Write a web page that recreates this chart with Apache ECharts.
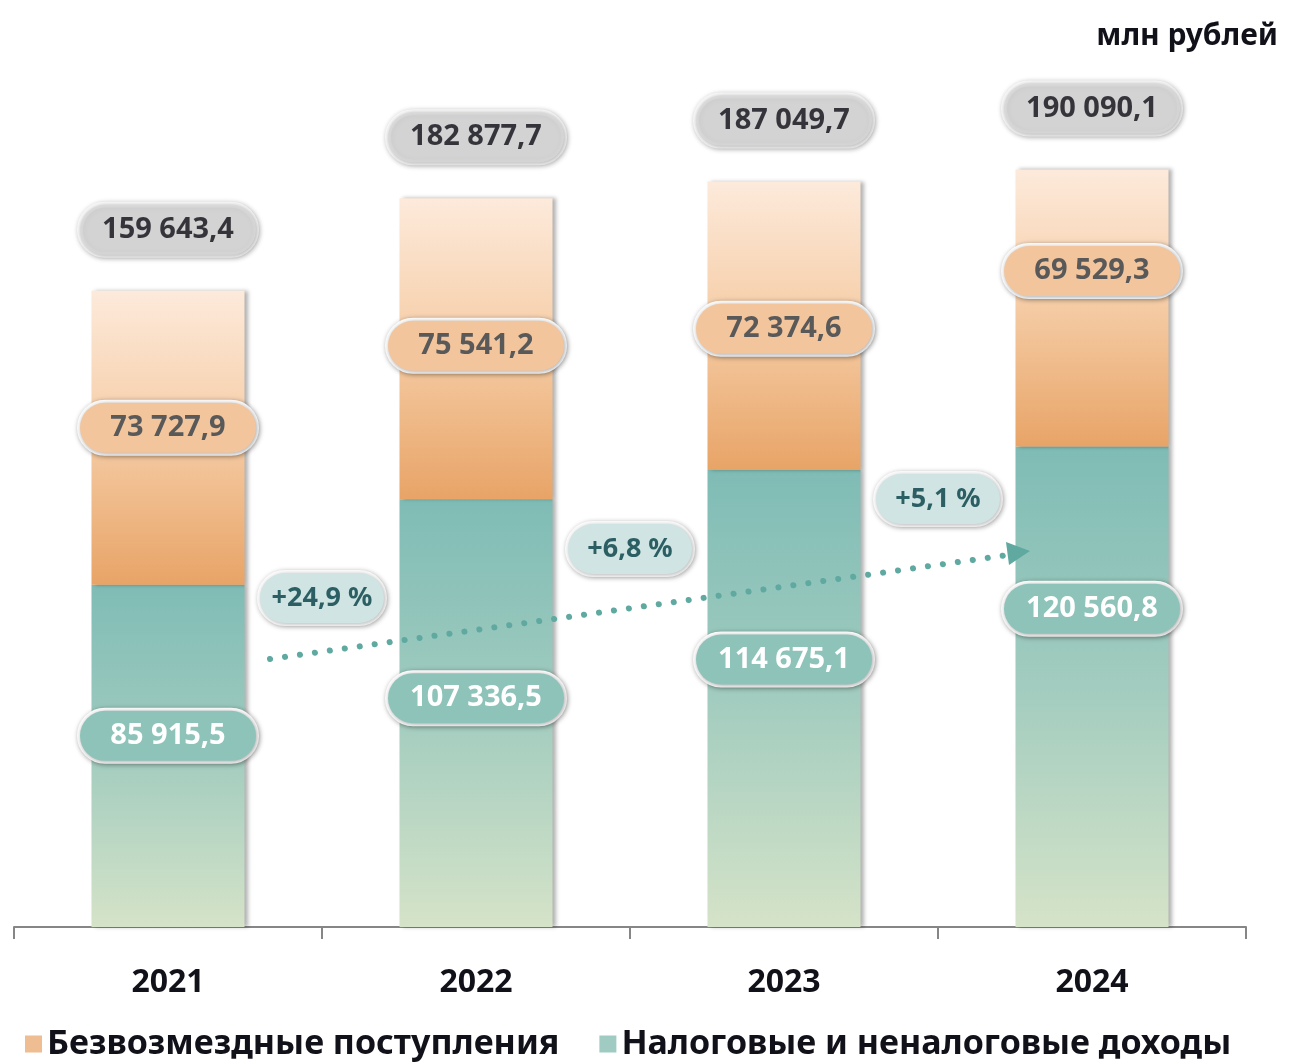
<!DOCTYPE html>
<html>
<head>
<meta charset="utf-8">
<script src="https://cdn.jsdelivr.net/npm/echarts@6/dist/echarts.min.js"></script>
<style>
  html, body { margin: 0; padding: 0; background: #fff; }
  #chart { width: 1289px; height: 1063px; }
</style>
</head>
<body>
<div id="chart"></div>
<script>
// данные, млн рублей
let years = ["2021", "2022", "2023", "2024"];
let taxIncome = [85915.5, 107336.5, 114675.1, 120560.8];   // Налоговые и неналоговые доходы
let grants = [73727.9, 75541.2, 72374.6, 69529.3];        // Безвозмездные поступления
let totals = [159643.4, 182877.7, 187049.7, 190090.1];
let growth = ["+24,9 %", "+6,8 %", "+5,1 %"];

// сдвиги подписей (px)
let grantShift = [-10, -3, 3, -37];
let taxShift = [-20, -15, -39, -78];
let growthY = [598, 549, 499];

const FONT = "'Noto Sans', sans-serif";

function fmt(v) {
    let s = v.toFixed(1).split(".");
    return s[0].replace(/\B(?=(\d{3})+(?!\d))/g, " ") + "," + s[1];
}

function pill(bg, color) {
    return {
        show: true,
        position: "inside",
        fontFamily: FONT,
        fontSize: 29,
        fontWeight: "bold",
        color: color,
        backgroundColor: bg,
        borderColor: "#ffffff",
        borderWidth: 3,
        borderRadius: 28,
        width: 148,
        height: 32,
        lineHeight: 32,
        align: "center",
        padding: [9, 14, 9, 14],
        shadowColor: "rgba(0,0,0,0.35)",
        shadowBlur: 5,
        shadowOffsetX: 1,
        shadowOffsetY: 1
    };
}

let myChar = echarts.init(document.getElementById("chart"));

let orangeGrad = new echarts.graphic.LinearGradient(0, 0, 0, 1, [
    { offset: 0, color: "#fdeadb" },
    { offset: 0.45, color: "#f6cfaa" },
    { offset: 1, color: "#e8a467" }
]);
let tealGrad = new echarts.graphic.LinearGradient(0, 0, 0, 1, [
    { offset: 0, color: "#7fbcb5" },
    { offset: 0.5, color: "#a2ccbf" },
    { offset: 1, color: "#d5e3c8" }
]);

myChar.setOption({
    animation: false,
    title: {
        text: "млн рублей",
        right: 6,
        top: 16,
        textStyle: { fontFamily: FONT, fontSize: 30, fontWeight: "bold", color: "#111119" }
    },
    legend: {
        left: 20,
        top: 1022,
        itemWidth: 17,
        itemHeight: 17,
        itemGap: 40,
        icon: "rect",
        textStyle: { fontFamily: FONT, fontSize: 34, fontWeight: "bold", color: "#111119" },
        data: [
            { name: "Безвозмездные поступления", itemStyle: { color: "#efbd92" } },
            { name: "Налоговые и неналоговые доходы", itemStyle: { color: "#9fcbc2" } }
        ]
    },
    grid: { left: 14, right: 43, top: 130, bottom: 136 },
    xAxis: {
        type: "category",
        data: years,
        axisLine: { lineStyle: { color: "#868686", width: 2 } },
        axisTick: { show: true, length: 12, lineStyle: { color: "#868686", width: 2 } },
        axisLabel: { margin: 40, fontFamily: FONT, fontSize: 32, fontWeight: "bold", color: "#111119" }
    },
    yAxis: {
        type: "value",
        min: 0,
        max: 200000,
        show: false,
        splitLine: { show: false }
    },
    series: [
        {
            name: "Налоговые и неналоговые доходы",
            type: "bar",
            stack: "all",
            barWidth: 153,
            itemStyle: {
                color: tealGrad,
                shadowColor: "rgba(0,0,0,0.3)",
                shadowBlur: 4,
                shadowOffsetX: 3
            },
            data: taxIncome.map((v, i) => ({
                value: v,
                label: Object.assign(pill("#8ec3ba", "#ffffff"), {
                    offset: [0, taxShift[i]],
                    formatter: () => fmt(v)
                })
            }))
        },
        {
            name: "Безвозмездные поступления",
            type: "bar",
            stack: "all",
            barWidth: 153,
            itemStyle: {
                color: orangeGrad,
                shadowColor: "rgba(0,0,0,0.3)",
                shadowBlur: 4,
                shadowOffsetX: 3
            },
            data: grants.map((v, i) => ({
                value: v,
                label: Object.assign(pill("#f3c59d", "#595959"), {
                    offset: [0, grantShift[i]],
                    formatter: () => fmt(v)
                })
            }))
        },
        {
            name: "Итого",
            type: "scatter",
            symbolSize: 1,
            itemStyle: { color: "rgba(0,0,0,0)" },
            label: Object.assign(pill("#d9d9d9", "#0d0d14"), {
                offset: [0, -61],
                formatter: (p) => fmt(p.value)
            }),
            data: totals
        }
    ]
});

// подписи прироста и пунктирная стрелка
let pctPill = {
    fontFamily: FONT, fontSize: 27, fontWeight: "bold", fill: "#2c5f63",
    backgroundColor: "#cfe4e3", borderColor: "#ffffff", borderWidth: 3,
    borderRadius: 28, width: 98, height: 32, lineHeight: 32, padding: [9, 13, 9, 13],
    shadowColor: "rgba(0,0,0,0.3)", shadowBlur: 5, shadowOffsetX: 1, shadowOffsetY: 1,
    align: "center", verticalAlign: "middle"
};
let graphics = growth.map((t, i) => {
    let x1 = myChar.convertToPixel({ xAxisIndex: 0 }, years[i]);
    let x2 = myChar.convertToPixel({ xAxisIndex: 0 }, years[i + 1]);
    return {
        type: "text",
        x: (x1 + x2) / 2,
        y: growthY[i],
        z: 20,
        style: Object.assign({ text: t }, pctPill)
    };
});
let ax0 = 270, ay0 = 659, ax1 = 1008, ay1 = 555;
graphics.push({
    type: "line",
    z: 15,
    shape: { x1: ax0, y1: ay0, x2: ax1, y2: ay1 },
    style: { stroke: "#5fa9a1", lineWidth: 6, lineCap: "round", lineDash: [0.1, 15] }
});
graphics.push({
    type: "polygon",
    z: 15,
    shape: { points: [[1030, 551], [1006, 542], [1009, 565]] },
    style: { fill: "#5fa9a1" }
});
myChar.setOption({ graphic: graphics });
</script>
</body>
</html>
